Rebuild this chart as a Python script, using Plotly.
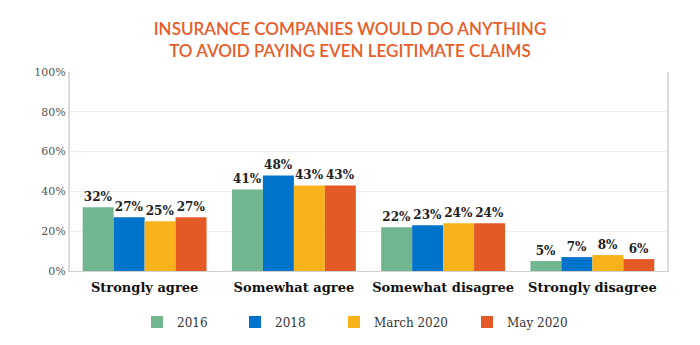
import plotly.graph_objects as go

categories = ["Strongly agree", "Somewhat agree", "Somewhat disagree", "Strongly disagree"]
series_names = ["2016", "2018", "March 2020", "May 2020"]
v2016 = [32, 41, 22, 5]
v2018 = [27, 48, 23, 7]
vmar2020 = [25, 43, 24, 8]
vmay2020 = [27, 43, 24, 6]
colors = ["#72B68F", "#0074CC", "#F8B21C", "#E35A27"]
y_ticks = [0, 20, 40, 60, 80, 100]
legend_x = [137, 235, 334, 467]

serif = "Georgia, 'DejaVu Serif', serif"
fig = go.Figure()
legend_ids = ["legend", "legend2", "legend3", "legend4"]
for name, vals, c, lid in zip(series_names, [v2016, v2018, vmar2020, vmay2020], colors, legend_ids):
    fig.add_trace(go.Bar(
        x=categories, y=vals, name=name, marker_color=c,
        marker_line_width=0, legend=lid, showlegend=True,
        text=[f"{v}%" for v in vals], textposition="outside",
        textfont=dict(family=serif, size=12, color="#222", weight="bold"),
        cliponaxis=False,
    ))

legend_layout = {}
for lid, lx in zip(legend_ids, legend_x):
    legend_layout[lid] = dict(
        orientation="h", x=lx / 700, xanchor="left", xref="container",
        y=0.067, yanchor="middle", yref="container",
        font=dict(family=serif, size=12, color="#333"),
        itemwidth=30, bgcolor="rgba(0,0,0,0)",
    )

fig.update_layout(
    width=700, height=345,
    showlegend=True,
    margin=dict(l=70, r=33, t=72, b=74, autoexpand=False),
    paper_bgcolor="white", plot_bgcolor="white",
    barmode="group", bargap=0.17, bargroupgap=0,
    title=dict(
        text="INSURANCE COMPANIES WOULD DO ANYTHING<br>TO AVOID PAYING EVEN LEGITIMATE CLAIMS",
        x=0.5, xanchor="center", y=0.90, yanchor="top",
        font=dict(family="Lato, 'Open Sans', sans-serif", size=17, color="#E85D2A", weight=600),
    ),
    xaxis=dict(
        tickfont=dict(family=serif, size=13, color="#111", weight="bold"),
        showline=True, linecolor="#d0d0d0", linewidth=1, mirror=False,
        ticks="", automargin=False, ticklabelstandoff=4,
    ),
    yaxis=dict(
        range=[0, 100], tickvals=y_ticks, ticktext=[f"{t}%" for t in y_ticks],
        tickfont=dict(family=serif, size=11, color="#555"),
        showgrid=True, gridcolor="#eeeeee", gridwidth=1,
        showline=True, linecolor="#dddddd", linewidth=2, mirror=True,
        zeroline=False, ticks="", automargin=False,
    ),
    font=dict(family=serif),
    **legend_layout,
)
fig.write_html("out.html")
